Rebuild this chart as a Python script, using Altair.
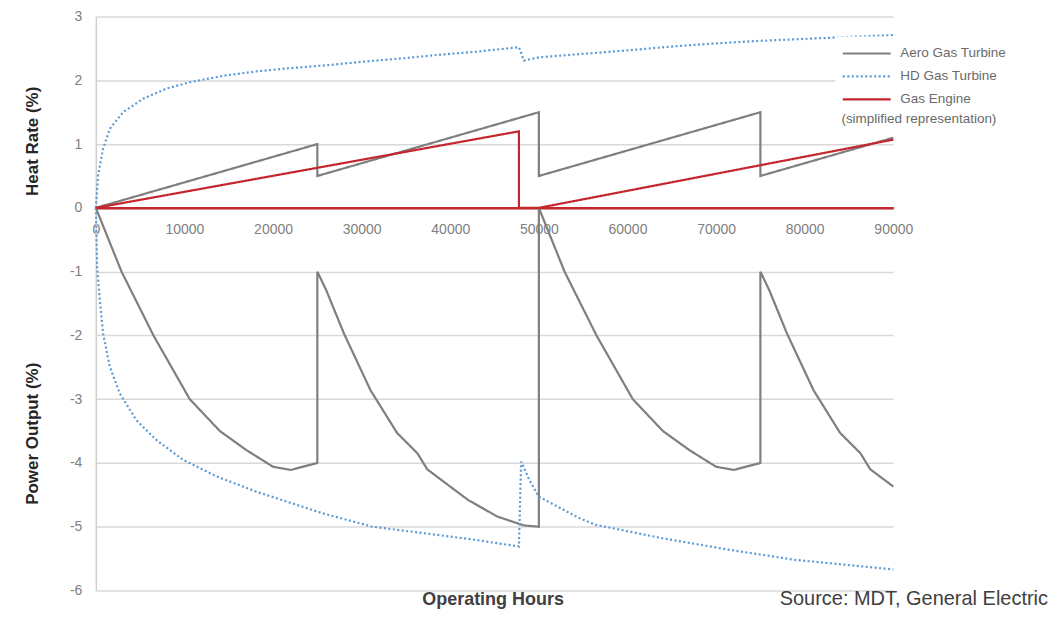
import altair as alt
import pandas as pd

series_names = ["Aero Gas Turbine", "HD Gas Turbine", "Gas Engine"]
series_colors = ["#7f7f7f", "#5a9ad6", "#c4262e"]

# Aero gas turbine - heat rate (%)
aero_hr_hours = [0, 25000, 25000, 50000, 50000, 75000, 75000, 90000]
aero_hr_vals = [0, 1.0, 0.5, 1.5, 0.5, 1.5, 0.5, 1.1]

# Aero gas turbine - power output (%)
aero_po_hours = [0, 2900, 6500, 10600, 14000, 17000, 20000, 22000, 25000,
                 25000, 26000, 28000, 31000, 34000, 36300, 37400, 42000, 45300, 48300, 50000,
                 50000, 52900, 56500, 60600, 64000, 67000, 70000, 72000, 75000,
                 75000, 76000, 78000, 81000, 84000, 86300, 87400, 90000]
aero_po_vals = [0, -1.0, -2.0, -3.0, -3.5, -3.8, -4.06, -4.11, -4.0,
                -1.0, -1.29, -1.97, -2.86, -3.53, -3.85, -4.1, -4.58, -4.84, -4.98, -5.0,
                0, -1.0, -2.0, -3.0, -3.5, -3.8, -4.06, -4.11, -4.0,
                -1.0, -1.29, -1.97, -2.86, -3.53, -3.85, -4.1, -4.37]

# HD gas turbine - heat rate (%)
hd_hr_hours = [0, 260, 820, 1580, 3070, 5330, 7960, 10590, 14340, 18100, 21850, 26350,
               30000, 35000, 38700, 43000, 47750, 48300, 50000, 54500, 60000, 65000,
               70000, 75000, 80000, 85000, 90000]
hd_hr_vals = [0, 0.51, 0.93, 1.24, 1.5, 1.71, 1.87, 1.97, 2.07, 2.14, 2.19, 2.24,
              2.29, 2.35, 2.40, 2.45, 2.52, 2.31, 2.36, 2.41, 2.47, 2.53,
              2.58, 2.62, 2.65, 2.68, 2.71]

# HD gas turbine - power output (%)
hd_po_hours = [0, 150, 450, 820, 1580, 2700, 4580, 6830, 9830, 13590, 18100, 25600,
               31200, 36900, 42500, 47750, 48000, 48900, 50000, 54500, 56400, 63900,
               71400, 78900, 90000]
hd_po_vals = [0, -0.93, -1.45, -1.97, -2.49, -2.91, -3.33, -3.64, -3.95, -4.21, -4.45, -4.79,
              -5.0, -5.1, -5.2, -5.31, -3.98, -4.26, -4.53, -4.86, -4.97, -5.18,
              -5.36, -5.52, -5.67]

# Gas engine - heat rate (%) (simplified)
ge_hours = [0, 47750, 47750, 50000, 90000]
ge_vals = [0, 1.2, 0, 0, 1.07]

x_ticks = [0, 10000, 20000, 30000, 40000, 50000, 60000, 70000, 80000, 90000]
y_ticks = [-6, -5, -4, -3, -2, -1, 0, 1, 2, 3]

rows = []
def add(series, curve, hours, vals):
    for i, (h, v) in enumerate(zip(hours, vals)):
        rows.append({"series": series, "curve": curve, "idx": i, "hours": h, "value": v})

add("Aero Gas Turbine", "aero_hr", aero_hr_hours, aero_hr_vals)
add("Aero Gas Turbine", "aero_po", aero_po_hours, aero_po_vals)
add("HD Gas Turbine", "hd_hr", hd_hr_hours, hd_hr_vals)
add("HD Gas Turbine", "hd_po", hd_po_hours, hd_po_vals)
add("Gas Engine", "ge_hr", ge_hours, ge_vals)
df = pd.DataFrame(rows)

FONT = "Liberation Sans"
W, H = 799, 575

legend = alt.Legend(
    title="(simplified representation)", titleOrient="bottom", titleAnchor="start",
    titleFontSize=13.5, titleFontWeight="normal", titleColor="#6a6a6a", titleFont=FONT,
    titlePadding=6,
    orient="none", legendX=741, legendY=20, fillColor="white", padding=6,
    symbolType="M-1,0H4", symbolSize=369, labelFontSize=13.5, labelColor="#6a6a6a",
    labelFont=FONT, rowPadding=5, labelOffset=37,
)

lines = alt.Chart(df).mark_line(strokeCap="butt").encode(
    x=alt.X("hours:Q", scale=alt.Scale(domain=[0, 90000], nice=False),
            axis=alt.Axis(values=x_ticks, format="d", title=None, offset=-H * 6 / 9,
                          domainColor="#c4262e", domainWidth=2.5, ticks=False, grid=False,
                          labelFontSize=14, labelColor="#808080", labelFont=FONT,
                          labelPadding=15, labelFlush=False, labelOverlap=False)),
    y=alt.Y("value:Q", scale=alt.Scale(domain=[-6, 3], nice=False),
            axis=alt.Axis(values=y_ticks, title=None, ticks=False, grid=True,
                          labelExpr="toString(datum.value)",
                          gridColor="#d9d9d9", gridWidth=1.5, domainColor="#d0d0d0",
                          domainWidth=1.5, labelFontSize=14, labelColor="#808080",
                          labelFont=FONT, labelPadding=14, labelFlush=False)),
    color=alt.Color("series:N", scale=alt.Scale(domain=series_names, range=series_colors),
                    legend=legend),
    strokeDash=alt.StrokeDash("series:N", scale=alt.Scale(domain=series_names,
                              range=[[1, 0], [2, 2.5], [1, 0]]), legend=legend),
    strokeWidth=alt.StrokeWidth("series:N", scale=alt.Scale(domain=series_names,
                                range=[2.2, 2.2, 2.8]), legend=legend),
    detail="curve:N",
    order="idx:Q",
)

def text_layer(label, x, y, **kw):
    return alt.Chart(pd.DataFrame({"label": [label]})).mark_text(font=FONT, **kw).encode(
        x=alt.value(x), y=alt.value(y), text="label:N")

t1 = text_layer("Heat Rate (%)", -63, 125, angle=270, fontSize=17, fontWeight="bold",
                color="#262626", align="center", baseline="middle")
t2 = text_layer("Power Output (%)", -63, 418, angle=270, fontSize=17, fontWeight="bold",
                color="#262626", align="center", baseline="middle")
t3 = text_layer("Operating Hours", 398, 590, fontSize=18, fontWeight="bold",
                color="#404040", align="center", baseline="alphabetic")
t4 = text_layer("Source: MDT, General Electric", 954, 590, fontSize=20,
                color="#404040", align="right", baseline="alphabetic")

chart = alt.layer(lines, t1, t2, t3, t4).properties(
    width=W, height=H,
    autosize=alt.AutoSizeParams(type="none"),
    padding={"left": 88, "top": 8, "right": 155, "bottom": 19},
    background="white",
).configure_view(stroke=None)

chart.save("out.html", embed_options={"renderer": "svg", "actions": False})
